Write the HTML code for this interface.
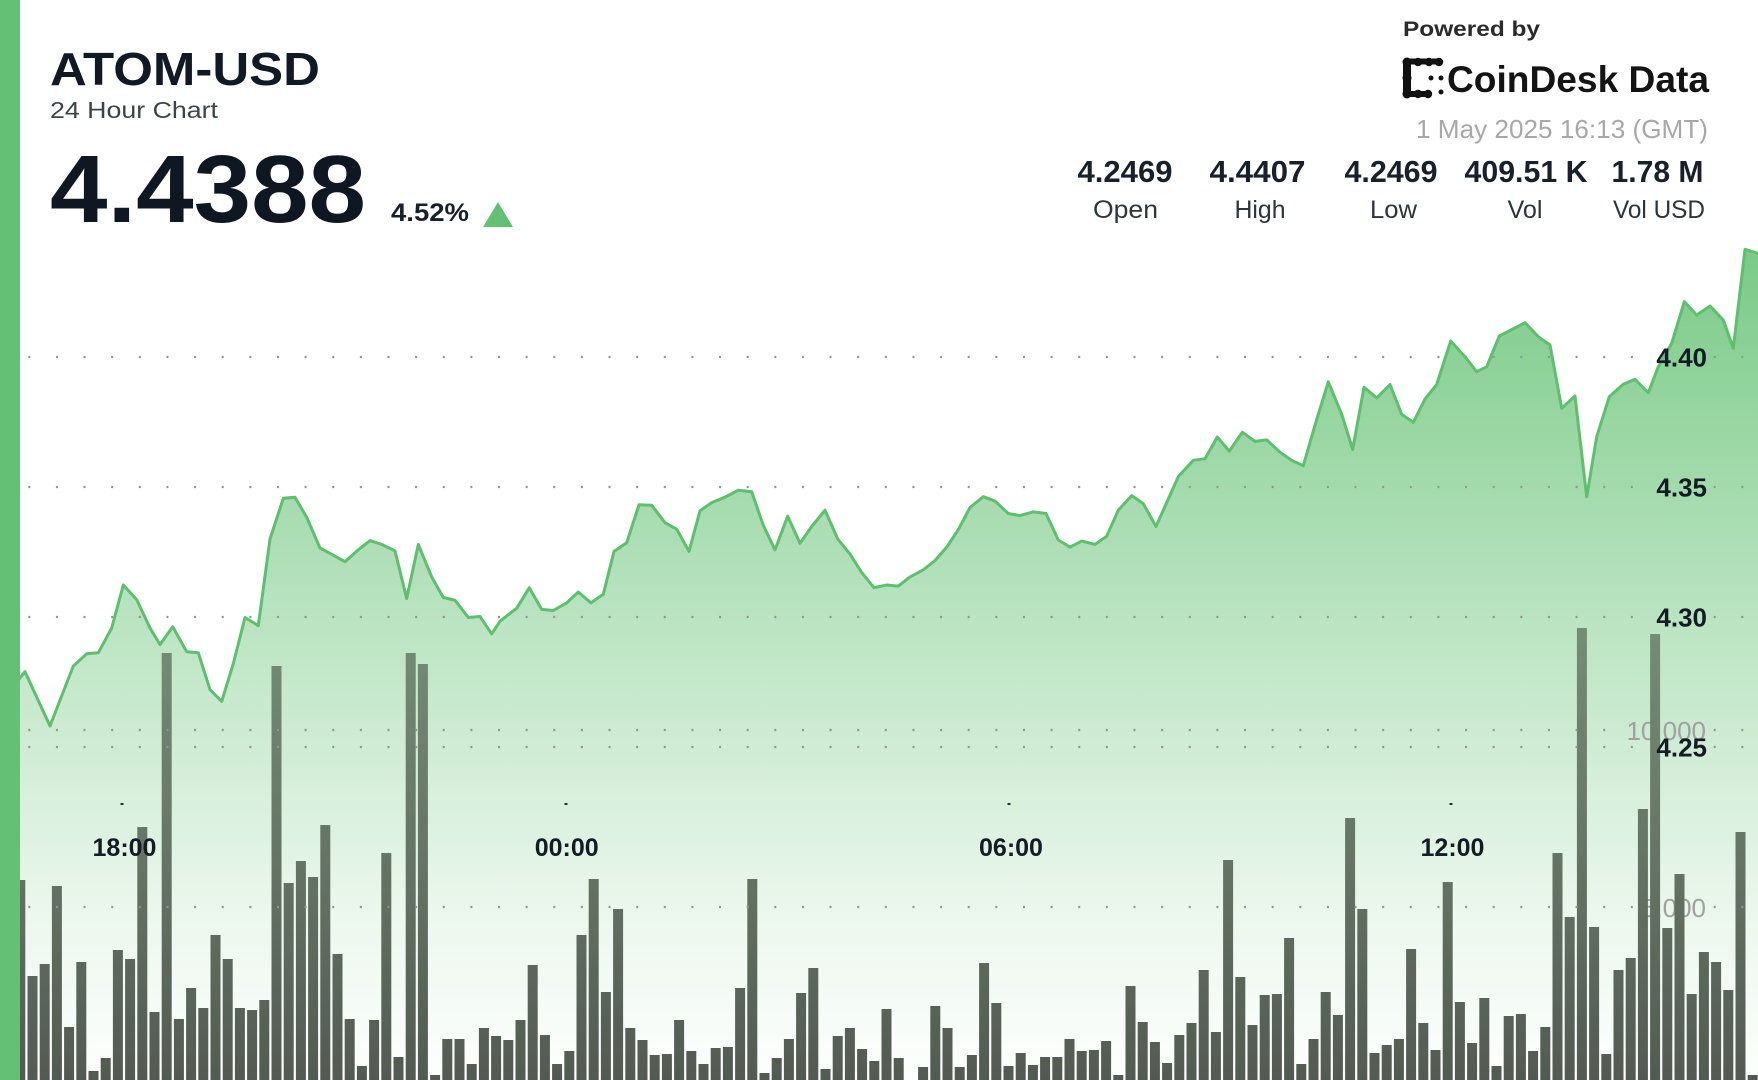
<!DOCTYPE html>
<html>
<head>
<meta charset="utf-8">
<style>
  html, body { margin: 0; padding: 0; background: #ffffff; width: 1758px; height: 1080px; overflow: hidden; }
  svg { display: block; }
  text { font-family: "Liberation Sans", Arial, sans-serif; }
</style>
</head>
<body>
<svg width="1758" height="1080" viewBox="0 0 1758 1080" xmlns="http://www.w3.org/2000/svg">
  <defs>
    <linearGradient id="areaGrad" gradientUnits="userSpaceOnUse" x1="0" y1="245" x2="0" y2="1080">
      <stop offset="0" stop-color="rgb(92,190,108)" stop-opacity="0.82"/>
      <stop offset="0.45" stop-color="rgb(92,190,108)" stop-opacity="0.42"/>
      <stop offset="0.8" stop-color="rgb(92,190,108)" stop-opacity="0.12"/>
      <stop offset="1" stop-color="rgb(92,190,108)" stop-opacity="0.01"/>
    </linearGradient>
    <linearGradient id="barGrad" gradientUnits="userSpaceOnUse" x1="0" y1="620" x2="0" y2="1080">
      <stop offset="0" stop-color="#748e76"/>
      <stop offset="0.5" stop-color="#667566"/>
      <stop offset="1" stop-color="#535a53"/>
    </linearGradient>
  </defs>

  <rect x="0" y="0" width="1758" height="1080" fill="#ffffff"/>

  <polygon fill="url(#areaGrad)" points="0,695 18.3,680 25,671.7 50,726 73.3,666 86.7,653.8 98.3,652.8 111.7,628 123.3,585 136.7,599.6 150,628 160,644.6 172.7,626.7 186.7,651.7 198.3,652.8 210,689.6 221.7,701.5 233.3,663.6 245,617.5 258.3,625.7 270,539 283.3,498.3 295,497.2 306.7,517.3 320,548 333.3,555.2 345,561.7 358.3,549.8 370,540.6 381.7,544.4 395,550.9 406.7,598.6 418.3,544.4 431.7,576.9 443.3,597.5 455,600.2 468.3,617.5 480,616.5 491.7,633.8 500,621.3 506.7,615.9 516.7,608.3 529.3,587.7 541.7,609.4 553.3,610.5 566.7,602.9 578.3,592 591,602.9 603.3,594.2 614,551.4 626.7,542.7 639,504.8 651.7,505.3 665,522.7 676.7,529.2 689,551.4 700,510.8 711.7,502.6 725,497.2 738.3,490.2 751.7,491.8 763.3,525.4 775,549.8 787.7,516.2 800,543.3 811.7,526.5 825,510.2 837.7,538.9 850,554.1 861.7,572.5 874,587.7 886.7,585 898.3,586.1 910,576.9 923.3,569.8 935,560.6 946.7,547.1 958.3,529.7 970,507.5 983.3,496.7 995,501 1008.3,513.5 1020,515.6 1033.3,511.8 1046,513.5 1058.3,540 1070,547.1 1081.7,541.1 1095,544.4 1106.7,536.2 1118.3,510.2 1131.7,495.6 1143.3,503.7 1156,526.5 1178.3,476.6 1193.3,460.3 1205,458.7 1217.3,437 1229.3,451.1 1242.3,432.2 1255,441.4 1266.7,439.8 1280,452.2 1291.7,460.3 1303.3,465.8 1315,425.1 1328.3,381.8 1341.7,414.3 1352.7,449.5 1364,387.2 1376.7,398 1390,384.5 1401.7,414.3 1413.3,422.4 1425,399.1 1436.7,384.5 1450.7,341 1465,356.7 1476.7,371.7 1486.7,366.7 1499.3,336 1511,330 1525,322.7 1538.3,336.7 1550,345 1561.7,408.3 1575,396 1586.7,496.7 1596.7,436.7 1609.3,396.7 1623.3,384.3 1635,379.3 1648.3,392.7 1658.3,366.7 1671.7,343.3 1684.3,301.7 1696.7,315 1710,306 1723.3,320 1733.3,348.3 1745,249.3 1758,253.3 1758,1080 0,1080"/>

  <text x="1706" y="740" font-size="26" fill="#a0a0a0" text-anchor="end">10,000</text>
  <text x="1706" y="917" font-size="26" fill="#a0a0a0" text-anchor="end">5,000</text>

  <g fill="url(#barGrad)">
    <rect x="15.3" y="880" width="10" height="200"/>
    <rect x="27.5" y="976" width="10" height="104"/>
    <rect x="39.7" y="964" width="10" height="116"/>
    <rect x="51.9" y="886" width="10" height="194"/>
    <rect x="64.1" y="1027" width="10" height="53"/>
    <rect x="76.3" y="962" width="10" height="118"/>
    <rect x="88.5" y="1071" width="10" height="9"/>
    <rect x="100.7" y="1058" width="10" height="22"/>
    <rect x="112.9" y="950" width="10" height="130"/>
    <rect x="125.1" y="959" width="10" height="121"/>
    <rect x="137.3" y="827" width="10" height="253"/>
    <rect x="149.5" y="1012" width="10" height="68"/>
    <rect x="161.7" y="653" width="10" height="427"/>
    <rect x="173.9" y="1019" width="10" height="61"/>
    <rect x="186.1" y="988" width="10" height="92"/>
    <rect x="198.3" y="1008" width="10" height="72"/>
    <rect x="210.5" y="935" width="10" height="145"/>
    <rect x="222.7" y="959" width="10" height="121"/>
    <rect x="234.9" y="1008" width="10" height="72"/>
    <rect x="247.1" y="1010" width="10" height="70"/>
    <rect x="259.3" y="1000" width="10" height="80"/>
    <rect x="271.5" y="666" width="10" height="414"/>
    <rect x="283.7" y="883" width="10" height="197"/>
    <rect x="295.9" y="861" width="10" height="219"/>
    <rect x="308.1" y="877" width="10" height="203"/>
    <rect x="320.3" y="825" width="10" height="255"/>
    <rect x="332.5" y="954" width="10" height="126"/>
    <rect x="344.7" y="1019" width="10" height="61"/>
    <rect x="356.9" y="1066" width="10" height="14"/>
    <rect x="369.1" y="1020" width="10" height="60"/>
    <rect x="381.3" y="853" width="10" height="227"/>
    <rect x="393.5" y="1057" width="10" height="23"/>
    <rect x="405.7" y="653" width="10" height="427"/>
    <rect x="417.9" y="664" width="10" height="416"/>
    <rect x="430.1" y="1075" width="10" height="5"/>
    <rect x="442.3" y="1039" width="10" height="41"/>
    <rect x="454.5" y="1039" width="10" height="41"/>
    <rect x="466.7" y="1064" width="10" height="16"/>
    <rect x="478.9" y="1028" width="10" height="52"/>
    <rect x="491.1" y="1036" width="10" height="44"/>
    <rect x="503.3" y="1040" width="10" height="40"/>
    <rect x="515.5" y="1020" width="10" height="60"/>
    <rect x="527.7" y="965" width="10" height="115"/>
    <rect x="539.9" y="1035" width="10" height="45"/>
    <rect x="552.1" y="1064" width="10" height="16"/>
    <rect x="564.3" y="1051" width="10" height="29"/>
    <rect x="576.5" y="935" width="10" height="145"/>
    <rect x="588.7" y="879" width="10" height="201"/>
    <rect x="600.9" y="992" width="10" height="88"/>
    <rect x="613.1" y="909" width="10" height="171"/>
    <rect x="625.3" y="1028" width="10" height="52"/>
    <rect x="637.5" y="1040" width="10" height="40"/>
    <rect x="649.7" y="1055" width="10" height="25"/>
    <rect x="661.9" y="1054" width="10" height="26"/>
    <rect x="674.1" y="1020" width="10" height="60"/>
    <rect x="686.3" y="1051" width="10" height="29"/>
    <rect x="698.5" y="1064" width="10" height="16"/>
    <rect x="710.7" y="1048" width="10" height="32"/>
    <rect x="722.9" y="1047" width="10" height="33"/>
    <rect x="735.1" y="988" width="10" height="92"/>
    <rect x="747.3" y="879" width="10" height="201"/>
    <rect x="759.5" y="1073" width="10" height="7"/>
    <rect x="771.7" y="1058" width="10" height="22"/>
    <rect x="783.9" y="1039" width="10" height="41"/>
    <rect x="796.1" y="993" width="10" height="87"/>
    <rect x="808.3" y="968" width="10" height="112"/>
    <rect x="820.5" y="1069" width="10" height="11"/>
    <rect x="832.7" y="1036" width="10" height="44"/>
    <rect x="844.9" y="1028" width="10" height="52"/>
    <rect x="857.1" y="1049" width="10" height="31"/>
    <rect x="869.3" y="1061" width="10" height="19"/>
    <rect x="881.5" y="1009" width="10" height="71"/>
    <rect x="893.7" y="1058" width="10" height="22"/>
    <rect x="918.1" y="1067" width="10" height="13"/>
    <rect x="930.3" y="1006" width="10" height="74"/>
    <rect x="942.5" y="1028" width="10" height="52"/>
    <rect x="954.7" y="1067" width="10" height="13"/>
    <rect x="966.9" y="1055" width="10" height="25"/>
    <rect x="979.1" y="963" width="10" height="117"/>
    <rect x="991.3" y="1003" width="10" height="77"/>
    <rect x="1003.5" y="1066" width="10" height="14"/>
    <rect x="1015.7" y="1053" width="10" height="27"/>
    <rect x="1027.9" y="1065" width="10" height="15"/>
    <rect x="1040.1" y="1057" width="10" height="23"/>
    <rect x="1052.3" y="1057" width="10" height="23"/>
    <rect x="1064.5" y="1039" width="10" height="41"/>
    <rect x="1076.7" y="1051" width="10" height="29"/>
    <rect x="1088.9" y="1050" width="10" height="30"/>
    <rect x="1101.1" y="1041" width="10" height="39"/>
    <rect x="1113.3" y="1075" width="10" height="5"/>
    <rect x="1125.5" y="986" width="10" height="94"/>
    <rect x="1137.7" y="1022" width="10" height="58"/>
    <rect x="1149.9" y="1042" width="10" height="38"/>
    <rect x="1162.1" y="1063" width="10" height="17"/>
    <rect x="1174.3" y="1035" width="10" height="45"/>
    <rect x="1186.5" y="1023" width="10" height="57"/>
    <rect x="1198.7" y="970" width="10" height="110"/>
    <rect x="1210.9" y="1032" width="10" height="48"/>
    <rect x="1223.1" y="860" width="10" height="220"/>
    <rect x="1235.3" y="977" width="10" height="103"/>
    <rect x="1247.5" y="1025" width="10" height="55"/>
    <rect x="1259.7" y="995" width="10" height="85"/>
    <rect x="1271.9" y="994" width="10" height="86"/>
    <rect x="1284.1" y="938" width="10" height="142"/>
    <rect x="1296.3" y="1064" width="10" height="16"/>
    <rect x="1308.5" y="1039" width="10" height="41"/>
    <rect x="1320.7" y="992" width="10" height="88"/>
    <rect x="1332.9" y="1015" width="10" height="65"/>
    <rect x="1345.1" y="818" width="10" height="262"/>
    <rect x="1357.3" y="909" width="10" height="171"/>
    <rect x="1369.5" y="1053" width="10" height="27"/>
    <rect x="1381.7" y="1045" width="10" height="35"/>
    <rect x="1393.9" y="1039" width="10" height="41"/>
    <rect x="1406.1" y="949" width="10" height="131"/>
    <rect x="1418.3" y="1023" width="10" height="57"/>
    <rect x="1430.5" y="1050" width="10" height="30"/>
    <rect x="1442.7" y="882" width="10" height="198"/>
    <rect x="1454.9" y="1002" width="10" height="78"/>
    <rect x="1467.1" y="1043" width="10" height="37"/>
    <rect x="1479.3" y="998" width="10" height="82"/>
    <rect x="1491.5" y="1066" width="10" height="14"/>
    <rect x="1503.7" y="1016" width="10" height="64"/>
    <rect x="1515.9" y="1014" width="10" height="66"/>
    <rect x="1528.1" y="1051" width="10" height="29"/>
    <rect x="1540.3" y="1027" width="10" height="53"/>
    <rect x="1552.5" y="853" width="10" height="227"/>
    <rect x="1564.7" y="917" width="10" height="163"/>
    <rect x="1576.9" y="628" width="10" height="452"/>
    <rect x="1589.1" y="927" width="10" height="153"/>
    <rect x="1601.3" y="1054" width="10" height="26"/>
    <rect x="1613.5" y="970" width="10" height="110"/>
    <rect x="1625.7" y="958" width="10" height="122"/>
    <rect x="1637.9" y="809" width="10" height="271"/>
    <rect x="1650.1" y="634" width="10" height="446"/>
    <rect x="1662.3" y="928" width="10" height="152"/>
    <rect x="1674.5" y="874" width="10" height="206"/>
    <rect x="1686.7" y="994" width="10" height="86"/>
    <rect x="1698.9" y="952" width="10" height="128"/>
    <rect x="1711.1" y="962" width="10" height="118"/>
    <rect x="1723.3" y="990" width="10" height="90"/>
    <rect x="1735.5" y="832" width="10" height="248"/>
    <rect x="1747.7" y="1075" width="10" height="5"/>
  </g>

  <g stroke="#939393" stroke-width="2.2" stroke-dasharray="2 25.63" fill="none">
    <line x1="28.3" y1="357" x2="1640" y2="357"/>
    <line x1="1713.7" y1="357" x2="1758" y2="357"/>
    <line x1="28.3" y1="487" x2="1640" y2="487"/>
    <line x1="1713.7" y1="487" x2="1758" y2="487"/>
    <line x1="28.3" y1="617" x2="1640" y2="617"/>
    <line x1="1713.7" y1="617" x2="1758" y2="617"/>
    <line x1="28.3" y1="747" x2="1640" y2="747"/>
    <line x1="1713.7" y1="747" x2="1758" y2="747"/>
    <line x1="28.3" y1="730" x2="1620" y2="730"/>
    <line x1="1713.7" y1="730" x2="1758" y2="730"/>
    <line x1="28.3" y1="907" x2="1635" y2="907"/>
    <line x1="1713.7" y1="907" x2="1758" y2="907"/>
  </g>

  <polyline fill="none" stroke="#5ebf6e" stroke-width="3" stroke-linejoin="round" stroke-linecap="round" points="0,695 18.3,680 25,671.7 50,726 73.3,666 86.7,653.8 98.3,652.8 111.7,628 123.3,585 136.7,599.6 150,628 160,644.6 172.7,626.7 186.7,651.7 198.3,652.8 210,689.6 221.7,701.5 233.3,663.6 245,617.5 258.3,625.7 270,539 283.3,498.3 295,497.2 306.7,517.3 320,548 333.3,555.2 345,561.7 358.3,549.8 370,540.6 381.7,544.4 395,550.9 406.7,598.6 418.3,544.4 431.7,576.9 443.3,597.5 455,600.2 468.3,617.5 480,616.5 491.7,633.8 500,621.3 506.7,615.9 516.7,608.3 529.3,587.7 541.7,609.4 553.3,610.5 566.7,602.9 578.3,592 591,602.9 603.3,594.2 614,551.4 626.7,542.7 639,504.8 651.7,505.3 665,522.7 676.7,529.2 689,551.4 700,510.8 711.7,502.6 725,497.2 738.3,490.2 751.7,491.8 763.3,525.4 775,549.8 787.7,516.2 800,543.3 811.7,526.5 825,510.2 837.7,538.9 850,554.1 861.7,572.5 874,587.7 886.7,585 898.3,586.1 910,576.9 923.3,569.8 935,560.6 946.7,547.1 958.3,529.7 970,507.5 983.3,496.7 995,501 1008.3,513.5 1020,515.6 1033.3,511.8 1046,513.5 1058.3,540 1070,547.1 1081.7,541.1 1095,544.4 1106.7,536.2 1118.3,510.2 1131.7,495.6 1143.3,503.7 1156,526.5 1178.3,476.6 1193.3,460.3 1205,458.7 1217.3,437 1229.3,451.1 1242.3,432.2 1255,441.4 1266.7,439.8 1280,452.2 1291.7,460.3 1303.3,465.8 1315,425.1 1328.3,381.8 1341.7,414.3 1352.7,449.5 1364,387.2 1376.7,398 1390,384.5 1401.7,414.3 1413.3,422.4 1425,399.1 1436.7,384.5 1450.7,341 1465,356.7 1476.7,371.7 1486.7,366.7 1499.3,336 1511,330 1525,322.7 1538.3,336.7 1550,345 1561.7,408.3 1575,396 1586.7,496.7 1596.7,436.7 1609.3,396.7 1623.3,384.3 1635,379.3 1648.3,392.7 1658.3,366.7 1671.7,343.3 1684.3,301.7 1696.7,315 1710,306 1723.3,320 1733.3,348.3 1745,249.3 1758,253.3"/>

  <g font-size="26" font-weight="bold" fill="#141b26" text-anchor="end">
    <text x="1707" y="366.5">4.40</text>
    <text x="1707" y="496.5">4.35</text>
    <text x="1707" y="626.5">4.30</text>
    <text x="1707" y="756.5">4.25</text>
  </g>

  <g fill="#2a2f36">
    <rect x="120.5" y="803" width="3" height="2"/>
    <rect x="564.5" y="803" width="3" height="2"/>
    <rect x="1007.5" y="803" width="3" height="2"/>
    <rect x="1449.5" y="803" width="3" height="2"/>
  </g>
  <g font-size="25" font-weight="bold" fill="#141b26" text-anchor="middle">
    <text x="124.5" y="856">18:00</text>
    <text x="566.7" y="856">00:00</text>
    <text x="1011" y="856">06:00</text>
    <text x="1452.5" y="856">12:00</text>
  </g>

  <rect x="0" y="0" width="20" height="1080" fill="#63c074"/>

  <text x="50" y="85" font-size="46" font-weight="bold" fill="#111a24" textLength="270" lengthAdjust="spacingAndGlyphs">ATOM-USD</text>
  <text x="50" y="118" font-size="23" fill="#3d434a" textLength="168" lengthAdjust="spacingAndGlyphs">24 Hour Chart</text>
  <text x="50" y="222" font-size="96" font-weight="bold" fill="#0f1722" textLength="316" lengthAdjust="spacingAndGlyphs">4.4388</text>
  <text x="391" y="221" font-size="25" font-weight="bold" fill="#1a202a" textLength="78" lengthAdjust="spacingAndGlyphs">4.52%</text>
  <polygon points="483,227 513,227 498,202" fill="#63c074"/>

  <text x="1403" y="36" font-size="21" font-weight="bold" fill="#2b2b2b" textLength="137" lengthAdjust="spacingAndGlyphs">Powered by</text>
  <g fill="#111111">
    <rect x="1403" y="60" width="8" height="36"/>
    <circle cx="1407" cy="62" r="4.5"/>
    <circle cx="1418" cy="62" r="4.2"/>
    <circle cx="1429" cy="62" r="4.2"/>
    <circle cx="1439" cy="62" r="4.2"/>
    <rect x="1407" y="58.5" width="32" height="6"/>
    <circle cx="1407" cy="78" r="4.5"/>
    <circle cx="1407" cy="94" r="4.5"/>
    <circle cx="1418" cy="94" r="4.2"/>
    <circle cx="1428" cy="94" r="4.2"/>
    <rect x="1407" y="91" width="21" height="6"/>
    <circle cx="1431" cy="78" r="2.5"/>
    <circle cx="1441" cy="78" r="2.5"/>
    <circle cx="1441" cy="92" r="2.5"/>
  </g>
  <text x="1447" y="92" font-size="37" font-weight="bold" fill="#141414" textLength="262" lengthAdjust="spacingAndGlyphs">CoinDesk Data</text>
  <text x="1416" y="138" font-size="26" fill="#a8a8a8" textLength="292" lengthAdjust="spacingAndGlyphs">1 May 2025 16:13 (GMT)</text>

  <g font-size="31" font-weight="bold" fill="#18202b" text-anchor="middle">
    <text x="1125" y="182" textLength="95" lengthAdjust="spacingAndGlyphs">4.2469</text>
    <text x="1257.5" y="182" textLength="96" lengthAdjust="spacingAndGlyphs">4.4407</text>
    <text x="1391" y="182" textLength="93" lengthAdjust="spacingAndGlyphs">4.2469</text>
    <text x="1526" y="182" textLength="123" lengthAdjust="spacingAndGlyphs">409.51 K</text>
    <text x="1657.5" y="182" textLength="92" lengthAdjust="spacingAndGlyphs">1.78 M</text>
  </g>
  <g font-size="25" fill="#2e343c" text-anchor="middle">
    <text x="1125.5" y="218" textLength="65" lengthAdjust="spacingAndGlyphs">Open</text>
    <text x="1260" y="218" textLength="51" lengthAdjust="spacingAndGlyphs">High</text>
    <text x="1393.5" y="218" textLength="47" lengthAdjust="spacingAndGlyphs">Low</text>
    <text x="1525" y="218" textLength="35" lengthAdjust="spacingAndGlyphs">Vol</text>
    <text x="1659" y="218" textLength="92" lengthAdjust="spacingAndGlyphs">Vol USD</text>
  </g>
</svg>
</body>
</html>
